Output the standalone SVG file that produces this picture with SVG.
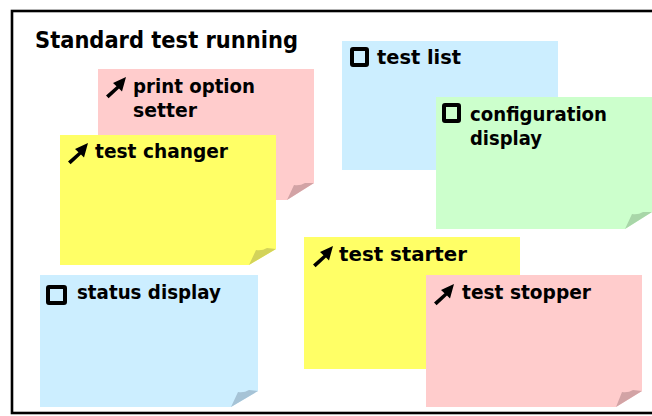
<svg xmlns="http://www.w3.org/2000/svg" width="652" height="416" viewBox="0 0 652 416">
<defs>
<style>
.t{font-family:"DejaVu Sans","Liberation Sans",sans-serif;font-weight:bold;font-size:20px;fill:#000}
.title{font-size:23px}
.pink{fill:#ffcccc}.pinkf{fill:#d2a3a5}
.yel{fill:#ffff66}.yelf{fill:#d3d35a}
.blue{fill:#cceeff}.bluef{fill:#a6c3d6}
.green{fill:#ccffcc}.greenf{fill:#a8d6a8}
.box{fill:none;stroke:#000;stroke-width:4}
</style>
<path id="arr" d="M20,0 L7,6 L10.5,9.2 L0,18.6 L2.6,21.2 L13,11.6 L16,14.4 Z" fill="#000"/>
</defs>
<rect x="12" y="11" width="660" height="402" fill="#fff" stroke="#000" stroke-width="2.6"/>
<text class="t title" x="35" y="48" textLength="263" lengthAdjust="spacingAndGlyphs">Standard test running</text>

<g id="print-option-setter">
<polygon class="pink" points="98,69 314,69 314,183 287,200 98,200"/>
<path class="pinkf" d="M287,200 L294,185 Q300,186 305,183 L314,183 Z"/>
<use href="#arr" x="106" y="77"/>
<text class="t" x="133" y="93" textLength="122" lengthAdjust="spacingAndGlyphs">print option</text>
<text class="t" x="133" y="117" textLength="64" lengthAdjust="spacingAndGlyphs">setter</text>
</g>

<g id="test-changer">
<polygon class="yel" points="60,135 276,135 276,249 249,265 60,265"/>
<path class="yelf" d="M249,265 L256,250 Q262,251 267,248 L276,249 Z"/>
<use href="#arr" x="68" y="143"/>
<text class="t" x="95" y="158" textLength="133" lengthAdjust="spacingAndGlyphs">test changer</text>
</g>

<g id="test-list">
<polygon class="blue" points="342,41 558,41 558,153 531,170 342,170"/>
<path class="bluef" d="M531,170 L538,155 Q544,156 549,153 L558,153 Z"/>
<rect class="box" x="352" y="49" width="15" height="16" rx="1"/>
<text class="t" x="377" y="64" textLength="84" lengthAdjust="spacingAndGlyphs">test list</text>
</g>

<g id="configuration-display">
<polygon class="green" points="436,97 652,97 652,212 625,229 436,229"/>
<path class="greenf" d="M625,229 L632,214 Q638,215 643,212 L652,212 Z"/>
<rect class="box" x="444" y="105" width="15" height="16" rx="1"/>
<text class="t" x="470" y="121" textLength="137" lengthAdjust="spacingAndGlyphs">configuration</text>
<text class="t" x="470" y="145" textLength="72" lengthAdjust="spacingAndGlyphs">display</text>
</g>

<g id="status-display">
<polygon class="blue" points="40,275 258,275 258,391 231,407 40,407"/>
<path class="bluef" d="M231,407 L238,392 Q244,393 249,390 L258,391 Z"/>
<rect class="box" x="48" y="287" width="17" height="16" rx="1"/>
<text class="t" x="77" y="299" textLength="144" lengthAdjust="spacingAndGlyphs">status display</text>
</g>

<g id="test-starter">
<polygon class="yel" points="304,237 520,237 520,352 493,369 304,369"/>
<path class="yelf" d="M493,369 L500,354 Q506,355 511,352 L520,352 Z"/>
<use href="#arr" x="313" y="246"/>
<text class="t" x="339" y="261" textLength="128" lengthAdjust="spacingAndGlyphs">test starter</text>
</g>

<g id="test-stopper">
<polygon class="pink" points="426,275 642,275 642,391 616,407 426,407"/>
<path class="pinkf" d="M616,407 L622,392 Q628,393 633,390 L642,391 Z"/>
<use href="#arr" x="434" y="284"/>
<text class="t" x="462" y="299" textLength="129" lengthAdjust="spacingAndGlyphs">test stopper</text>
</g>
</svg>
